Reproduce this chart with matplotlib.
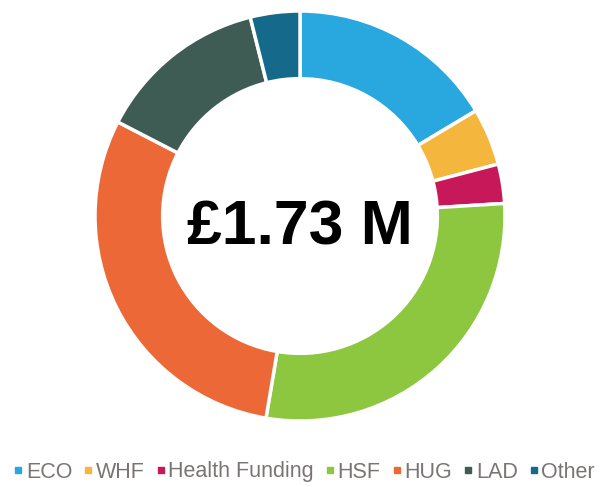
import matplotlib
matplotlib.use("Agg")
import matplotlib.pyplot as plt
from matplotlib.lines import Line2D

categories = ["ECO", "WHF", "Health Funding", "HSF", "HUG", "LAD", "Other"]
shares = [16.4, 4.5, 3.1, 28.6, 29.9, 13.5, 3.9]
colors = ["#29A8E0", "#F4B63C", "#C7185A", "#8DC63F", "#EC6836", "#3E5B54", "#156A8C"]
center_label = "£1.73 M"

plt.rcParams['font.family'] = ['Liberation Sans', 'DejaVu Sans']

fig = plt.figure(figsize=(6.11, 4.87), dpi=100)
ax = fig.add_axes([95/611, 66/487, 410/611, 410/487])
ax.pie(shares, colors=colors, startangle=90, counterclock=False, radius=1.0,
       wedgeprops=dict(width=0.33, edgecolor="white", linewidth=2.5))
ax.set_xlim(-1, 1)
ax.set_ylim(-1, 1)
ax.set_aspect("equal")
ax.axis("off")
ax.text(0, -0.06, center_label, ha="center", va="center", fontsize=45,
        fontweight="bold", color="black")

handles = [Line2D([0], [0], marker="s", linestyle="none", markersize=4.5,
                  markerfacecolor=c, markeredgecolor=c) for c in colors]
fig.legend(handles, categories, loc="center", bbox_to_anchor=(305/611, 1 - 472/487),
           ncol=7, frameon=False, fontsize=15.5, labelcolor="#7A7574",
           handlelength=0.3, handletextpad=0.2, columnspacing=0.6, borderpad=0)

fig.savefig("out.png", dpi=100)
